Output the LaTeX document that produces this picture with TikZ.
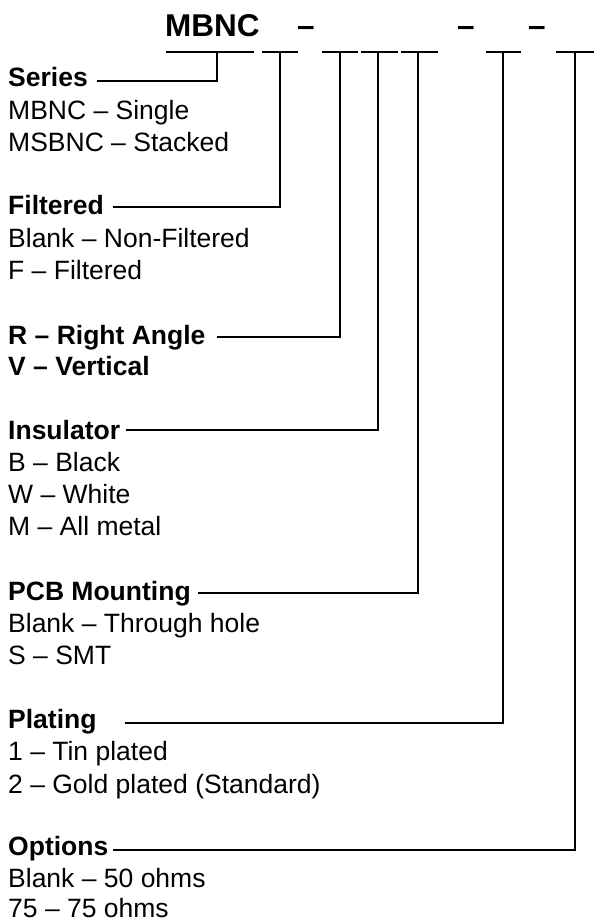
\documentclass[tikz,border=0pt]{standalone}
\usepackage{fontspec}
\setmainfont{Liberation Sans}
\begin{document}
\begin{tikzpicture}[x=1pt,y=-1pt,
  lbl/.style={anchor=base west,inner sep=0pt,font=\fontsize{26.5}{31}\selectfont},
  head/.style={anchor=base west,inner sep=0pt,font=\fontsize{26.5}{31}\selectfont\bfseries},
  ttl/.style={anchor=base west,inner sep=0pt,font=\fontsize{31.5}{36}\selectfont\bfseries},
  conn/.style={line width=1.1pt,line cap=rect}]
\useasboundingbox (0,0) rectangle (595,923);
% title
\node[ttl] (title) at (165,37) {MBNC};
\node[ttl] (d1) at (297,37) {–};
\node[ttl] (d2) at (457,37) {–};
\node[ttl] (d3) at (528,37) {–};
% blanks
\foreach \i/\a/\b/\t in {1/167/253/217,2/263/297/280,3/323/357/340,4/362/397/378,5/402/437/418,6/487/520/503,7/557/593/575}{
  \coordinate (ua\i) at (\a,52);
  \coordinate (ub\i) at (\b,52);
  \coordinate (t\i) at (\t,52);
  \draw[conn] (ua\i) -- (ub\i);
}
% labels
\node[head] (series) at (8,87) {Series};
\node[lbl] (s1) at (8,120) {MBNC – Single};
\node[lbl] (s2) at (8,151) {MSBNC – Stacked};
\node[head] (filt) at (8,214) {Filtered};
\node[lbl] (f1) at (8,247) {Blank – Non-Filtered};
\node[lbl] (f2) at (8,279) {F – Filtered};
\node[head] (ra) at (8,344) {R – Right Angle};
\node[head] (vv) at (8,375) {V – Vertical};
\node[head] (ins) at (8,439) {Insulator};
\node[lbl] (i1) at (8,471) {B – Black};
\node[lbl] (i2) at (8,503) {W – White};
\node[lbl] (i3) at (8,535) {M – All metal};
\node[head] (pcb) at (8,600) {PCB Mounting};
\node[lbl] (p1) at (8,632) {Blank – Through hole};
\node[lbl] (p2) at (8,664) {S – SMT};
\node[head] (plat) at (8,728) {Plating};
\node[lbl] (l1) at (8,760) {1 – Tin plated};
\node[lbl] (l2) at (8,793) {2 – Gold plated (Standard)};
\node[head] (opt) at (8,855) {Options};
\node[lbl] (o1) at (8,887) {Blank – 50 ohms};
\node[lbl] (o2) at (8,917) {75 – 75 ohms};
% connector starts
\coordinate (c1) at (97,81);
\coordinate (c2) at (113,207);
\coordinate (c3) at (217,337);
\coordinate (c4) at (126,430);
\coordinate (c5) at (198,593);
\coordinate (c6) at (125,723);
\coordinate (c7) at (113,850);
\foreach \i in {1,...,7}{
  \draw[conn,line cap=butt] (c\i) -| (t\i);
}
\end{tikzpicture}
\end{document}
